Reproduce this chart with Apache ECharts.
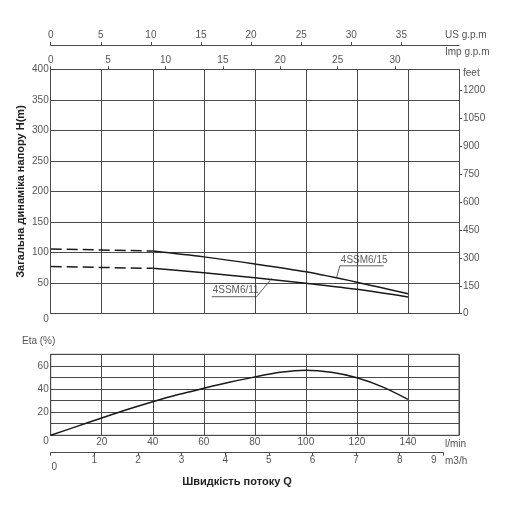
<!DOCTYPE html>
<html>
<head>
<meta charset="utf-8">
<script src="https://cdn.jsdelivr.net/npm/echarts@6/dist/echarts.min.js"></script>
<style>
html,body{margin:0;padding:0;background:#fff;}
#chart{width:507px;height:512px;}
</style>
</head>
<body>
<div id="chart"></div>
<script>
// ---- data ----
const head15Dashed = [[0, 106], [40, 102.5]];
const head15 = [[40, 102.5], [60, 93], [80, 81.5], [100, 68.5], [120, 51.5], [140, 32.5]];
const head11Dashed = [[0, 77.2], [40, 74.2]];
const head11 = [[40, 74.2], [60, 67], [80, 59], [100, 49.8], [120, 40], [140, 27.5]];
const etaCurve = [[0, 0], [10, 7.5], [20, 15], [30, 22.3], [40, 29], [50, 35.2], [60, 40.6], [70, 45.8],
  [80, 50.5], [90, 54.5], [100, 56.3], [110, 54.4], [120, 49.7], [130, 41.8], [140, 31]];
const label15 = '4SSM6/15';
const label11 = '4SSM6/11';
const leader15 = [[112, 58.5], [113.3, 78.4], [130.5, 78.4]];
const leader11 = [[86.6, 57.8], [80.7, 27.8], [63.1, 27.8]];
const usGpmTicks = [0, 5, 10, 15, 20, 25, 30, 35];
const impGpmTicks = [0, 5, 10, 15, 20, 25, 30];
const feetTicks = [0, 150, 300, 450, 600, 750, 900, 1050, 1200];
const m3hTicks = [0, 1, 2, 3, 4, 5, 6, 7, 8, 9];
const yTitle = 'Загальна динаміка напору H(m)';
const xTitle = 'Швидкість потоку Q';

// ---- chart ----
const chart = echarts.init(document.getElementById('chart'), null, {renderer: 'canvas'});
const FONT = 'Liberation Sans, Arial, sans-serif';
const LBL = '#555';
const GRIDC = '#4a4a4a';
const CURVE = '#1a1a1a';
const axisLine = {show: true, onZero: false, lineStyle: {color: GRIDC, width: 1}};
const split = {show: true, lineStyle: {color: GRIDC, width: 1}};
const lbl = {fontFamily: FONT, fontSize: 10, color: LBL};
const zeroRich = {z: {padding: [11, 0, 0, 0], fontFamily: FONT, fontSize: 10, color: LBL}};
const plain = v => String(v);

const option = {
  animation: false,
  textStyle: {fontFamily: FONT},
  grid: [
    {left: 50.7, top: 69.3, width: 408.3, height: 244.4, show: false},
    {left: 50.7, top: 354.3, width: 408.3, height: 81, show: true, borderColor: GRIDC, borderWidth: 1},
    {left: 50.7, top: 440, width: 392.6, height: 12.7, show: false}
  ],
  xAxis: [
    {gridIndex: 0, type: 'value', min: 0, max: 160, interval: 20, position: 'bottom',
      axisLine: axisLine, axisTick: {show: false}, axisLabel: {show: false}, splitLine: split},
    {gridIndex: 0, type: 'value', min: 0, max: 40.75, interval: 5, position: 'top', offset: 24.3,
      axisLine: axisLine, axisTick: {show: true, length: 3, customValues: usGpmTicks, lineStyle: {color: GRIDC}},
      axisLabel: Object.assign({margin: 5, customValues: usGpmTicks, formatter: plain}, lbl), splitLine: {show: false}},
    {gridIndex: 0, type: 'value', min: 0, max: 35.57, interval: 5, position: 'top', offset: 0,
      axisLine: axisLine, axisTick: {show: true, length: 3, customValues: impGpmTicks, lineStyle: {color: GRIDC}},
      axisLabel: Object.assign({margin: 4, customValues: impGpmTicks, formatter: plain}, lbl), splitLine: {show: false}},
    {gridIndex: 1, type: 'value', min: 0, max: 160, interval: 20, position: 'bottom',
      axisLine: axisLine, axisTick: {show: false},
      axisLabel: Object.assign({margin: 2, formatter: v => (v === 0 || v === 160) ? '' : String(v)}, lbl),
      splitLine: split},
    {gridIndex: 2, type: 'value', min: 0, max: 9, interval: 1, position: 'bottom',
      axisLine: axisLine, axisTick: {show: true, length: 3, customValues: m3hTicks, lineStyle: {color: GRIDC}},
      axisLabel: Object.assign({margin: 3, customValues: m3hTicks,
        formatter: v => v === 0 ? '{a|0}' : (v === 9 ? '{b|9}' : String(v)),
        rich: {a: {padding: [7, 0, 0, 7], fontFamily: FONT, fontSize: 10, color: LBL},
               b: {padding: [0, 19, 0, 0], fontFamily: FONT, fontSize: 10, color: LBL}}}, lbl),
      splitLine: {show: false}}
  ],
  yAxis: [
    {gridIndex: 0, type: 'value', min: 0, max: 400, interval: 50, position: 'left',
      axisLine: axisLine, axisTick: {show: false},
      axisLabel: Object.assign({margin: 2, formatter: v => v === 0 ? '{z|0}' : String(v), rich: zeroRich}, lbl),
      splitLine: split,
      name: yTitle, nameLocation: 'middle', nameGap: 24, nameMoveOverlap: false,
      nameTextStyle: {fontFamily: FONT, fontSize: 11, fontWeight: 'bold', color: '#222'}},
    {gridIndex: 0, type: 'value', min: 0, max: 1312, interval: 150, position: 'right',
      axisLine: axisLine, axisTick: {show: true, length: 3, customValues: feetTicks, lineStyle: {color: GRIDC}},
      axisLabel: Object.assign({margin: 4, customValues: feetTicks, formatter: plain}, lbl), splitLine: {show: false}},
    {gridIndex: 1, type: 'value', min: 0, max: 70, interval: 10, position: 'left',
      axisLine: axisLine, axisTick: {show: false},
      axisLabel: Object.assign({margin: 2, rich: zeroRich,
        formatter: v => v === 0 ? '{z|0}' : ((v % 20 === 0 && v < 70) ? String(v) : '')}, lbl),
      splitLine: split},
    {gridIndex: 2, type: 'value', min: 0, max: 1, show: false}
  ],
  series: [
    {name: label15 + ' dashed', type: 'line', xAxisIndex: 0, yAxisIndex: 0, data: head15Dashed,
      showSymbol: false, silent: true, lineStyle: {color: CURVE, width: 1.5, type: [11, 5]}},
    {name: label15, type: 'line', xAxisIndex: 0, yAxisIndex: 0, data: head15, smooth: 0.3,
      showSymbol: false, silent: true, lineStyle: {color: CURVE, width: 1.5}},
    {name: label11 + ' dashed', type: 'line', xAxisIndex: 0, yAxisIndex: 0, data: head11Dashed,
      showSymbol: false, silent: true, lineStyle: {color: CURVE, width: 1.5, type: [11, 5]}},
    {name: label11, type: 'line', xAxisIndex: 0, yAxisIndex: 0, data: head11, smooth: 0.3,
      showSymbol: false, silent: true, lineStyle: {color: CURVE, width: 1.5}},
    {name: 'leader15', type: 'line', xAxisIndex: 0, yAxisIndex: 0, data: leader15,
      showSymbol: false, silent: true, lineStyle: {color: '#333', width: 0.8}},
    {name: 'leader11', type: 'line', xAxisIndex: 0, yAxisIndex: 0, data: leader11,
      showSymbol: false, silent: true, lineStyle: {color: '#333', width: 0.8}},
    {name: 'labels', type: 'scatter', xAxisIndex: 0, yAxisIndex: 0, symbolSize: 0, silent: true,
      data: [
        {value: leader15[1], label: {formatter: label15}},
        {value: leader11[2], label: {formatter: label11}}
      ],
      label: {show: true, position: [1, -1], align: 'left', verticalAlign: 'bottom',
        fontFamily: FONT, fontSize: 10, color: '#333'}},
    {name: 'Eta', type: 'line', xAxisIndex: 3, yAxisIndex: 2, data: etaCurve, smooth: 0.3,
      showSymbol: false, silent: true, lineStyle: {color: CURVE, width: 1.5}}
  ],
  graphic: [
    {type: 'text', x: 445, y: 35, style: {text: 'US g.p.m', font: '10px ' + FONT, fill: LBL, verticalAlign: 'middle'}},
    {type: 'text', x: 445, y: 52, style: {text: 'Imp g.p.m', font: '10px ' + FONT, fill: LBL, verticalAlign: 'middle'}},
    {type: 'text', x: 463, y: 73, style: {text: 'feet', font: '10px ' + FONT, fill: LBL, verticalAlign: 'middle'}},
    {type: 'text', x: 22, y: 341, style: {text: 'Eta (%)', font: '10px ' + FONT, fill: LBL, verticalAlign: 'middle'}},
    {type: 'text', x: 445, y: 444, style: {text: 'l/min', font: '10px ' + FONT, fill: LBL, verticalAlign: 'middle'}},
    {type: 'text', x: 445, y: 461, style: {text: 'm3/h', font: '10px ' + FONT, fill: LBL, verticalAlign: 'middle'}},
    {type: 'text', x: 237, y: 482, style: {text: xTitle, font: 'bold 11px ' + FONT, fill: '#222',
      align: 'center', verticalAlign: 'middle'}}
  ]
};
chart.setOption(option);
</script>
</body>
</html>
